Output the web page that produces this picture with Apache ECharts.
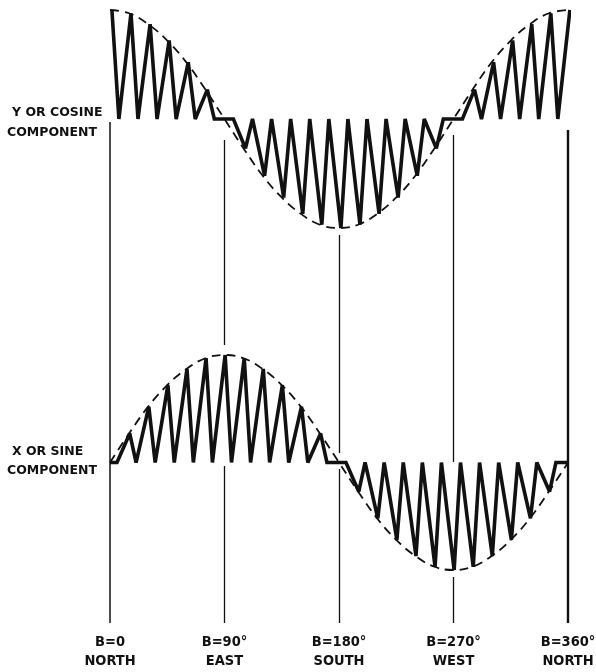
<!DOCTYPE html>
<html>
<head>
<meta charset="utf-8">
<script src="https://cdn.jsdelivr.net/npm/echarts@6/dist/echarts.min.js"></script>
<style>
  html, body { margin: 0; padding: 0; background: #fff; }
  #chart { width: 596px; height: 672px; }
</style>
</head>
<body>
<div id="chart"></div>
<script>
// ---- data ----
const bearingTicks = [0, 90, 180, 270, 360];
const bearingLabels = ['B=0', 'B=90°', 'B=180°', 'B=270°', 'B=360°'];
const directionLabels = ['NORTH', 'EAST', 'SOUTH', 'WEST', 'NORTH'];
const toothAngles = [0, 15, 30, 45, 60, 75, 90, 105, 120, 135, 150, 165, 180,
                     195, 210, 225, 240, 255, 270, 285, 300, 315, 330, 345, 360];
const cosineComponent = [1.00, 0.97, 0.87, 0.72, 0.52, 0.27, 0.00, -0.27, -0.52, -0.72, -0.87, -0.97, -1.00,
                         -0.97, -0.87, -0.72, -0.52, -0.27, 0.00, 0.27, 0.52, 0.72, 0.87, 0.97, 1.00];
const sineComponent = [0.00, 0.27, 0.52, 0.72, 0.87, 0.97, 1.00, 0.97, 0.87, 0.72, 0.52, 0.27, 0.00,
                       -0.27, -0.52, -0.72, -0.87, -0.97, -1.00, -0.97, -0.87, -0.72, -0.52, -0.27, 0.00];

// ---- build sawtooth traces (peak on envelope, quick return to zero line) ----
function sawtooth(values, peakShift, baseShift) {
  const pts = [];
  values.forEach((v, i) => {
    const a = toothAngles[i];
    if (v !== 0) pts.push([a + peakShift, v]);
    else if (i === 0) pts.push([a, 0]);
    if (i < values.length - 1) pts.push([a + baseShift, 0]);
    else if (v === 0) pts.push([a, 0]);
  });
  return pts;
}
function envelope(values) {
  return toothAngles.map((a, i) => [a, values[i]]);
}

const INK = '#111';
const guideSegments = [
  { x: 0,   y: [122, 623], w: 1.5 },
  { x: 90,  y: [140, 345], w: 1.3 },
  { x: 90,  y: [466, 623], w: 1.3 },
  { x: 180, y: [235, 453], w: 1.3 },
  { x: 180, y: [469, 623], w: 1.3 },
  { x: 270, y: [135, 462], w: 1.3 },
  { x: 270, y: [577, 623], w: 1.3 },
  { x: 360, y: [130, 623], w: 2.4 }
];

const chart = echarts.init(document.getElementById('chart'), null, { renderer: 'canvas' });

const hiddenX = (gi) => ({ type: 'value', gridIndex: gi, min: 0, max: 360, show: false });
const hiddenY = (gi) => ({ type: 'value', gridIndex: gi, min: -1, max: 1, show: false });

const labelFont = "'DejaVu Sans Condensed', 'DejaVu Sans', sans-serif";
const sideFont = "'DejaVu Sans', sans-serif";
const gridBase = { left: 110, width: 458, containLabel: false, outerBoundsMode: 'none' };

chart.setOption({
  animation: false,
  backgroundColor: '#ffffff',
  grid: [
    Object.assign({ top: 10, height: 218 }, gridBase),
    Object.assign({ top: 355, height: 215 }, gridBase),
    Object.assign({ top: 0, height: 623 }, gridBase)
  ],
  xAxis: [
    hiddenX(0),
    hiddenX(1),
    {
      type: 'value', gridIndex: 2, min: 0, max: 360, interval: 90,
      axisLine: { show: false }, axisTick: { show: false }, splitLine: { show: false },
      axisLabel: {
        show: true, margin: 10, showMinLabel: true, showMaxLabel: true,
        alignMinLabel: 'center', alignMaxLabel: 'center', hideOverlap: false,
        formatter: (v) => {
          const i = bearingTicks.indexOf(v);
          return i < 0 ? '' : bearingLabels[i] + '\n' + directionLabels[i];
        },
        color: INK, fontFamily: labelFont, fontWeight: 'bold', fontSize: 14.5, lineHeight: 19
      }
    }
  ],
  yAxis: [
    hiddenY(0),
    hiddenY(1),
    { type: 'value', gridIndex: 2, min: 0, max: 623, inverse: true, show: false }
  ],
  graphic: [
    { type: 'text', left: 12, top: 106, style: { text: 'Y OR COSINE', fill: INK, font: "bold 12.5px " + sideFont } },
    { type: 'text', left: 7, top: 126, style: { text: 'COMPONENT', fill: INK, font: "bold 12.5px " + sideFont } },
    { type: 'text', left: 12, top: 445, style: { text: 'X OR SINE', fill: INK, font: "bold 12.5px " + sideFont } },
    { type: 'text', left: 7, top: 464, style: { text: 'COMPONENT', fill: INK, font: "bold 12.5px " + sideFont } }
  ],
  series: [
    {
      type: 'line', xAxisIndex: 0, yAxisIndex: 0, data: envelope(cosineComponent),
      smooth: 0.4, symbol: 'none', clip: false,
      lineStyle: { color: INK, width: 1.8, type: [9, 6] }, z: 2
    },
    {
      type: 'line', xAxisIndex: 0, yAxisIndex: 0, data: sawtooth(cosineComponent, 1.5, 7),
      symbol: 'none', clip: false,
      lineStyle: { color: INK, width: 3.6, join: 'miter', miterLimit: 3 }, z: 3
    },
    {
      type: 'line', xAxisIndex: 1, yAxisIndex: 1, data: envelope(sineComponent),
      smooth: 0.4, symbol: 'none', clip: false,
      lineStyle: { color: INK, width: 1.8, type: [9, 6] }, z: 2
    },
    {
      type: 'line', xAxisIndex: 1, yAxisIndex: 1, data: sawtooth(sineComponent, 0.5, 5.5),
      symbol: 'none', clip: false,
      lineStyle: { color: INK, width: 3.6, join: 'miter', miterLimit: 3 }, z: 3
    },
    ...guideSegments.map((s) => ({
      type: 'lines', coordinateSystem: 'cartesian2d', xAxisIndex: 2, yAxisIndex: 2,
      data: [{ coords: [[s.x, s.y[0]], [s.x, s.y[1]]] }],
      lineStyle: { color: INK, width: s.w, opacity: 1 }, z: 1, silent: true
    }))
  ]
});
</script>
</body>
</html>
